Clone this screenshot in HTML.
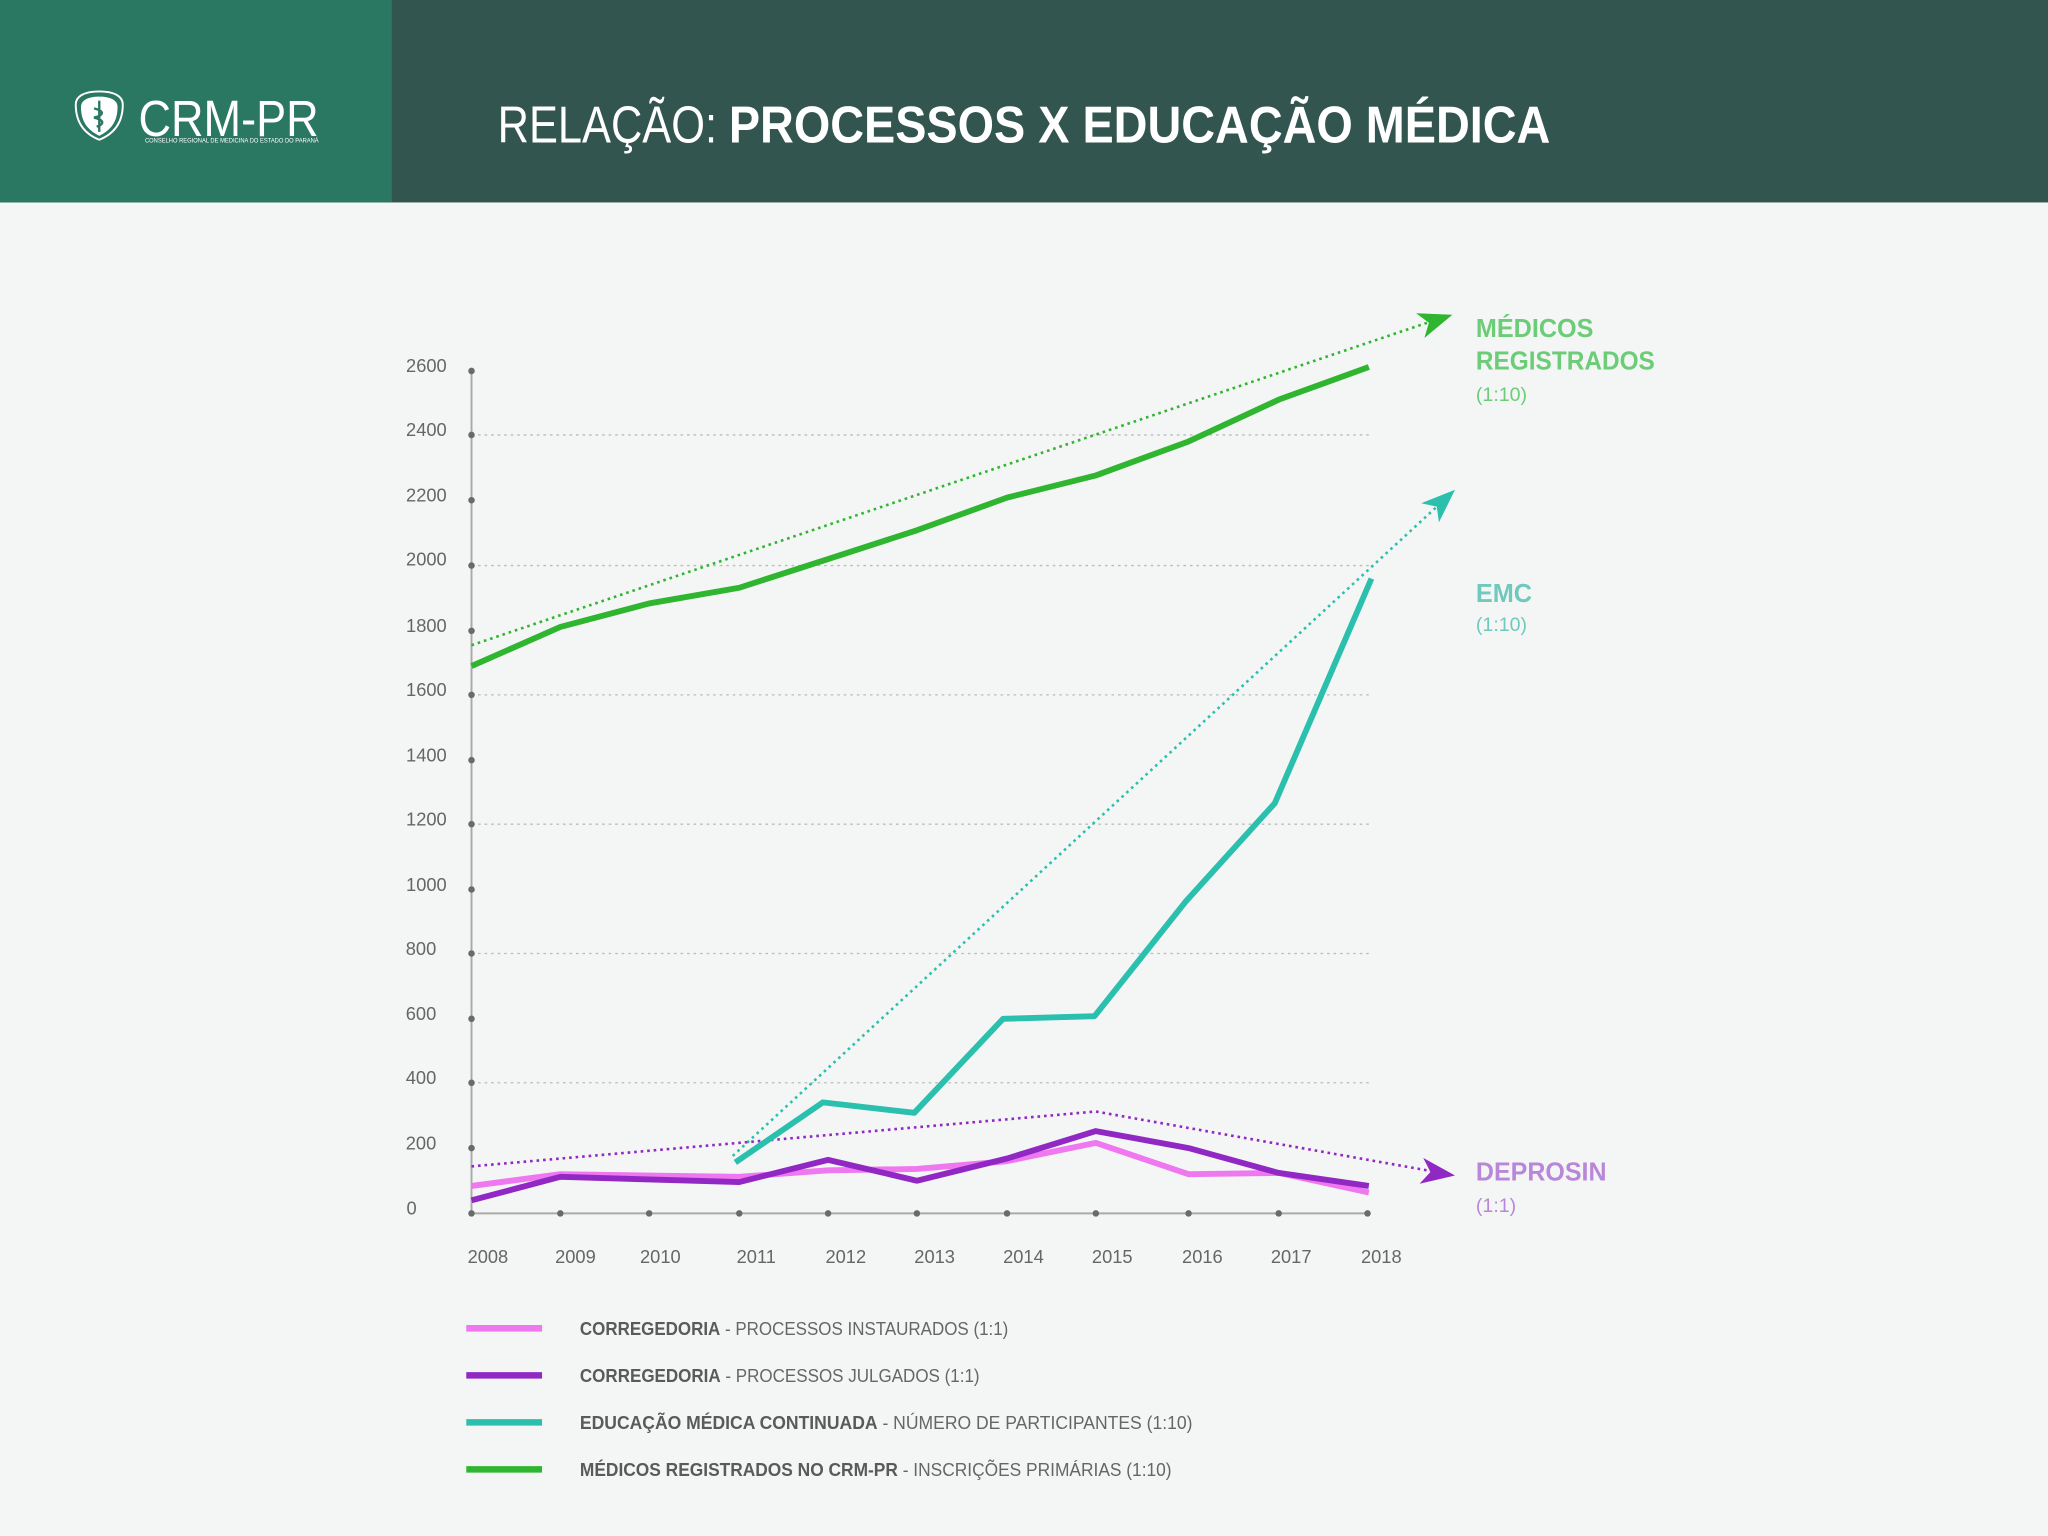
<!DOCTYPE html>
<html><head><meta charset="utf-8"><style>
html,body{margin:0;padding:0;background:#f4f6f5;}
svg{display:block;}
text{font-family:"Liberation Sans",sans-serif;}
</style></head><body>
<svg width="2048" height="1536" viewBox="0 0 1568 1176" xmlns="http://www.w3.org/2000/svg">
<rect width="1568" height="1176" fill="#f4f6f5"/>
<rect x="0" y="0" width="1568" height="155" fill="#33554f"/>
<rect x="0" y="0" width="300" height="155" fill="#2a7762"/>
<g fill="none" stroke="#fff">
<path d="M76 70 C64 70 58 74 58 80 C58 95 66 103 76 107 C86 103 94 95 94 80 C94 74 88 70 76 70Z" stroke-width="1.5"/>
<path d="M76 74 C67 74 62 77 62 82 C62 94 68 100 76 104 C84 100 90 94 90 82 C90 77 85 74 76 74Z" fill="#fff" stroke="none"/>
</g>
<path d="M76 77 L76 101 M72 83 C80 85 80 88 72 90 C80 92 80 95 74 97" stroke="#2a7762" stroke-width="1.8" fill="none"/>
<text x="106" y="104" font-family="Liberation Serif,serif" font-size="39" fill="#fff" textLength="138" lengthAdjust="spacingAndGlyphs">CRM-PR</text>
<text x="111" y="109" font-size="5.2" fill="#fff" textLength="133" lengthAdjust="spacingAndGlyphs">CONSELHO REGIONAL DE MEDICINA DO ESTADO DO PARANÁ</text>
<text x="381" y="109" font-size="40" fill="#fff" font-weight="300" textLength="168" lengthAdjust="spacingAndGlyphs">RELAÇÃO:</text>
<text x="558" y="109" font-size="40" fill="#fff" font-weight="bold" textLength="629" lengthAdjust="spacingAndGlyphs">PROCESSOS X EDUCAÇÃO MÉDICA</text>

<g stroke="#b8bcbb" stroke-width="1" stroke-dasharray="2 3">
<line x1="361" y1="333" x2="1048" y2="333"/>
<line x1="361" y1="433" x2="1048" y2="433"/>
<line x1="361" y1="532" x2="1048" y2="532"/>
<line x1="361" y1="631" x2="1048" y2="631"/>
<line x1="361" y1="730" x2="1048" y2="730"/>
<line x1="361" y1="829" x2="1048" y2="829"/>
</g>
<line x1="361" y1="284" x2="361" y2="929" stroke="#aaa" stroke-width="1.5"/>
<line x1="361" y1="929" x2="1048" y2="929" stroke="#aaa" stroke-width="1.5"/>
<g fill="#6a6a6a">
<circle cx="361" cy="284" r="2.5"/><circle cx="361" cy="333" r="2.5"/><circle cx="361" cy="383" r="2.5"/><circle cx="361" cy="433" r="2.5"/><circle cx="361" cy="483" r="2.5"/><circle cx="361" cy="532" r="2.5"/><circle cx="361" cy="582" r="2.5"/><circle cx="361" cy="631" r="2.5"/><circle cx="361" cy="681" r="2.5"/><circle cx="361" cy="730" r="2.5"/><circle cx="361" cy="780" r="2.5"/><circle cx="361" cy="829" r="2.5"/><circle cx="361" cy="879" r="2.5"/><circle cx="361" cy="929" r="2.5"/>
<circle cx="429" cy="929" r="2.5"/><circle cx="497" cy="929" r="2.5"/><circle cx="566" cy="929" r="2.5"/><circle cx="634" cy="929" r="2.5"/><circle cx="702" cy="929" r="2.5"/><circle cx="771" cy="929" r="2.5"/><circle cx="839" cy="929" r="2.5"/><circle cx="910" cy="929" r="2.5"/><circle cx="979" cy="929" r="2.5"/><circle cx="1047" cy="929" r="2.5"/>
</g>
<g font-size="14" fill="#666" text-anchor="end">
<text x="342" y="285">2600</text><text x="342" y="334">2400</text><text x="342" y="384">2200</text><text x="342" y="433">2000</text><text x="342" y="484">1800</text><text x="342" y="533">1600</text><text x="342" y="583">1400</text><text x="342" y="632">1200</text><text x="342" y="682">1000</text><text x="334" y="731">800</text><text x="334" y="781">600</text><text x="334" y="830">400</text><text x="334" y="880">200</text><text x="319" y="930">0</text>
</g>
<g font-size="14" fill="#666">
<text x="358" y="967">2008</text><text x="425" y="967">2009</text><text x="490" y="967">2010</text><text x="564" y="967">2011</text><text x="632" y="967">2012</text><text x="700" y="967">2013</text><text x="768" y="967">2014</text><text x="836" y="967">2015</text><text x="905" y="967">2016</text><text x="973" y="967">2017</text><text x="1042" y="967">2018</text>
</g>

<g fill="none" stroke-width="2" stroke-dasharray="2 3">
<line x1="361" y1="494" x2="1096" y2="246" stroke="#2fb52f"/>
<line x1="561" y1="885" x2="1100" y2="388" stroke="#2bbfad"/>
<polyline points="361,893 839,851 1098,897" stroke="#9128c4"/>
</g>
<path d="M0 0 L-26 -10 L-19 0 L-26 10 Z" fill="#2fb52f" transform="translate(1112,241) rotate(-18.6)"/>
<path d="M0 0 L-26 -10 L-19 0 L-26 10 Z" fill="#2bbfad" transform="translate(1114,375) rotate(-42.7)"/>
<path d="M0 0 L-26 -10 L-19 0 L-26 10 Z" fill="#9128c4" transform="translate(1114,900) rotate(8)"/>

<g fill="none" stroke-width="4.5" stroke-linejoin="round">
<polyline stroke="#2fb52f" points="361,510 429,480 497,462 566,450 634,428 702,406 771,381 839,364 910,338 979,306 1048,281"/>
<polyline stroke="#2bbfad" points="563,890 630,844 700,852 768,780 838,778 908,690 976,615 1050,443"/>
<polyline stroke="#ef77ef" points="361,908 429,899 497,900 566,901 634,896 702,895 771,889 839,875 910,899 979,898 1048,913"/>
<polyline stroke="#9128c4" points="361,919 429,901 497,903 566,905 634,888 702,904 771,887 839,866 910,879 979,898 1048,908"/>
</g>

<g font-weight="bold" font-size="20">
<text x="1130" y="258" fill="#6ccc77" textLength="90" lengthAdjust="spacingAndGlyphs">MÉDICOS</text>
<text x="1130" y="283" fill="#6ccc77" textLength="137" lengthAdjust="spacingAndGlyphs">REGISTRADOS</text>
<text x="1130" y="461" fill="#6fc9bd" textLength="43" lengthAdjust="spacingAndGlyphs">EMC</text>
<text x="1130" y="904" fill="#b987d9" textLength="100" lengthAdjust="spacingAndGlyphs">DEPROSIN</text>
</g>
<g font-size="15">
<text x="1130" y="307" fill="#6ccc77">(1:10)</text>
<text x="1130" y="483" fill="#6fc9bd">(1:10)</text>
<text x="1130" y="928" fill="#b987d9">(1:1)</text>
</g>

<g stroke-width="5">
<line x1="357" y1="1017" x2="415" y2="1017" stroke="#ef77ef"/>
<line x1="357" y1="1053" x2="415" y2="1053" stroke="#9128c4"/>
<line x1="357" y1="1089" x2="415" y2="1089" stroke="#2bbfad"/>
<line x1="357" y1="1125" x2="415" y2="1125" stroke="#2fb52f"/>
</g>
<g font-size="14" fill="#666">
<text x="444" y="1022" textLength="328" lengthAdjust="spacingAndGlyphs"><tspan font-weight="bold" fill="#5a5a5a">CORREGEDORIA</tspan> - PROCESSOS INSTAURADOS (1:1)</text>
<text x="444" y="1058" textLength="306" lengthAdjust="spacingAndGlyphs"><tspan font-weight="bold" fill="#5a5a5a">CORREGEDORIA</tspan> - PROCESSOS JULGADOS (1:1)</text>
<text x="444" y="1094" textLength="469" lengthAdjust="spacingAndGlyphs"><tspan font-weight="bold" fill="#5a5a5a">EDUCAÇÃO MÉDICA CONTINUADA</tspan> - NÚMERO DE PARTICIPANTES (1:10)</text>
<text x="444" y="1130" textLength="453" lengthAdjust="spacingAndGlyphs"><tspan font-weight="bold" fill="#5a5a5a">MÉDICOS REGISTRADOS NO CRM-PR</tspan> - INSCRIÇÕES PRIMÁRIAS (1:10)</text>
</g>
</svg>
</body></html>
